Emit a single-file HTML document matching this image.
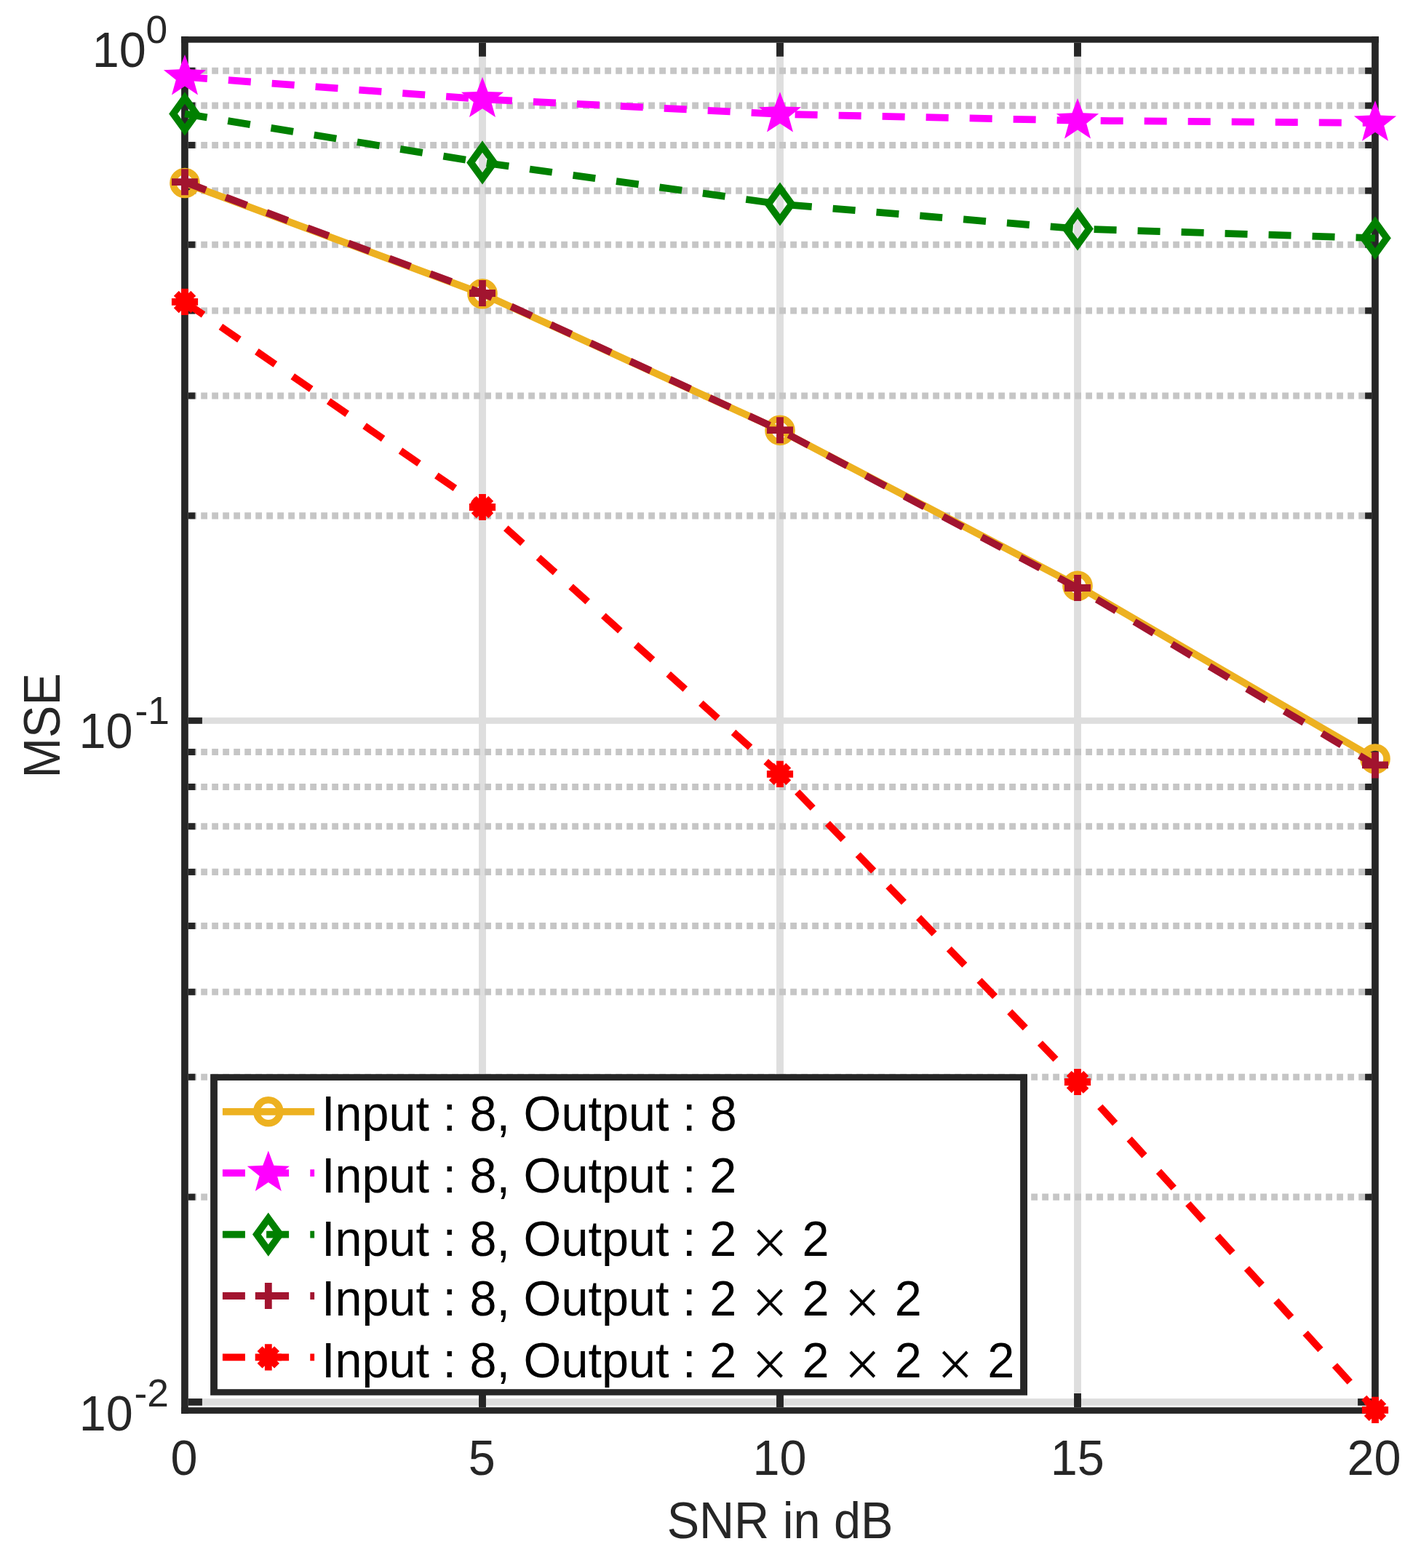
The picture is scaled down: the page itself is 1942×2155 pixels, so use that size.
<!DOCTYPE html>
<html lang="en">
<head>
<meta charset="utf-8">
<title>MSE vs SNR in dB</title>
<style>
html,body{margin:0;padding:0;background:#fff;}
body{width:1942px;height:2155px;overflow:hidden;}
svg{display:block;}
text{font-family:"Liberation Sans",sans-serif;}
</style>
</head>
<body>
<svg width="1942" height="2155" viewBox="0 0 1942 2155" role="img" aria-label="MSE versus SNR in dB">
<rect width="1942" height="2155" fill="#fff"/>
<g fill="#dedede">
<rect x="658.05" y="58.7" width="9.9" height="1875.5" fill="#dedede"/>
<rect x="1067.05" y="58.7" width="9.9" height="1875.5" fill="#dedede"/>
<rect x="1476.05" y="58.7" width="9.9" height="1875.5" fill="#dedede"/>
<rect x="258.8" y="986.1" width="1626.3" height="8.7" fill="#dedede"/>
<rect x="258.8" y="1922.1" width="1626.3" height="9.7" fill="#dedede"/>
</g>
<g fill="#c6c6c6">
<path d="M261.2 97.24H1139" stroke="#c6c6c6" stroke-width="9.1" stroke-dasharray="8.8 6.2" fill="none"/>
<path d="M1147.2 97.24H1885" stroke="#c6c6c6" stroke-width="9.1" stroke-dasharray="8.8 6.2" fill="none"/>
<path d="M261.2 145.14H1139" stroke="#c6c6c6" stroke-width="9.1" stroke-dasharray="8.8 6.2" fill="none"/>
<path d="M1147.2 145.14H1885" stroke="#c6c6c6" stroke-width="9.1" stroke-dasharray="8.8 6.2" fill="none"/>
<path d="M261.2 199.43H1139" stroke="#c6c6c6" stroke-width="9.1" stroke-dasharray="8.8 6.2" fill="none"/>
<path d="M1147.2 199.43H1885" stroke="#c6c6c6" stroke-width="9.1" stroke-dasharray="8.8 6.2" fill="none"/>
<path d="M261.2 262.12H1139" stroke="#c6c6c6" stroke-width="9.1" stroke-dasharray="8.8 6.2" fill="none"/>
<path d="M1147.2 262.12H1885" stroke="#c6c6c6" stroke-width="9.1" stroke-dasharray="8.8 6.2" fill="none"/>
<path d="M261.2 336.25H1139" stroke="#c6c6c6" stroke-width="9.1" stroke-dasharray="8.8 6.2" fill="none"/>
<path d="M1147.2 336.25H1885" stroke="#c6c6c6" stroke-width="9.1" stroke-dasharray="8.8 6.2" fill="none"/>
<path d="M261.2 426.99H1139" stroke="#c6c6c6" stroke-width="9.1" stroke-dasharray="8.8 6.2" fill="none"/>
<path d="M1147.2 426.99H1885" stroke="#c6c6c6" stroke-width="9.1" stroke-dasharray="8.8 6.2" fill="none"/>
<path d="M261.2 543.97H1139" stroke="#c6c6c6" stroke-width="9.1" stroke-dasharray="8.8 6.2" fill="none"/>
<path d="M1147.2 543.97H1885" stroke="#c6c6c6" stroke-width="9.1" stroke-dasharray="8.8 6.2" fill="none"/>
<path d="M261.2 708.85H1139" stroke="#c6c6c6" stroke-width="9.1" stroke-dasharray="8.8 6.2" fill="none"/>
<path d="M1147.2 708.85H1885" stroke="#c6c6c6" stroke-width="9.1" stroke-dasharray="8.8 6.2" fill="none"/>
<path d="M261.2 1033.54H1139" stroke="#c6c6c6" stroke-width="9.1" stroke-dasharray="8.8 6.2" fill="none"/>
<path d="M1147.2 1033.54H1885" stroke="#c6c6c6" stroke-width="9.1" stroke-dasharray="8.8 6.2" fill="none"/>
<path d="M261.2 1081.44H1139" stroke="#c6c6c6" stroke-width="9.1" stroke-dasharray="8.8 6.2" fill="none"/>
<path d="M1147.2 1081.44H1885" stroke="#c6c6c6" stroke-width="9.1" stroke-dasharray="8.8 6.2" fill="none"/>
<path d="M261.2 1135.73H1139" stroke="#c6c6c6" stroke-width="9.1" stroke-dasharray="8.8 6.2" fill="none"/>
<path d="M1147.2 1135.73H1885" stroke="#c6c6c6" stroke-width="9.1" stroke-dasharray="8.8 6.2" fill="none"/>
<path d="M261.2 1198.42H1139" stroke="#c6c6c6" stroke-width="9.1" stroke-dasharray="8.8 6.2" fill="none"/>
<path d="M1147.2 1198.42H1885" stroke="#c6c6c6" stroke-width="9.1" stroke-dasharray="8.8 6.2" fill="none"/>
<path d="M261.2 1272.55H1139" stroke="#c6c6c6" stroke-width="9.1" stroke-dasharray="8.8 6.2" fill="none"/>
<path d="M1147.2 1272.55H1885" stroke="#c6c6c6" stroke-width="9.1" stroke-dasharray="8.8 6.2" fill="none"/>
<path d="M261.2 1363.29H1139" stroke="#c6c6c6" stroke-width="9.1" stroke-dasharray="8.8 6.2" fill="none"/>
<path d="M1147.2 1363.29H1885" stroke="#c6c6c6" stroke-width="9.1" stroke-dasharray="8.8 6.2" fill="none"/>
<path d="M261.2 1480.27H1139" stroke="#c6c6c6" stroke-width="9.1" stroke-dasharray="8.8 6.2" fill="none"/>
<path d="M1147.2 1480.27H1885" stroke="#c6c6c6" stroke-width="9.1" stroke-dasharray="8.8 6.2" fill="none"/>
<path d="M261.2 1645.15H1139" stroke="#c6c6c6" stroke-width="9.1" stroke-dasharray="8.8 6.2" fill="none"/>
<path d="M1147.2 1645.15H1885" stroke="#c6c6c6" stroke-width="9.1" stroke-dasharray="8.8 6.2" fill="none"/>
</g>
<g fill="#262626">
<rect x="249.1" y="50.1" width="9.7" height="1892.8" fill="#262626"/>
<rect x="1885.1" y="50.1" width="9.7" height="1892.8" fill="#262626"/>
<rect x="249.1" y="50.1" width="1645.7" height="8.6" fill="#262626"/>
<rect x="249.1" y="1934.2" width="1645.7" height="8.7" fill="#262626"/>
<rect x="658.05" y="58.7" width="9.9" height="19" fill="#262626"/>
<rect x="658.05" y="1915" width="9.9" height="19.2" fill="#262626"/>
<rect x="1067.05" y="58.7" width="9.9" height="19" fill="#262626"/>
<rect x="1067.05" y="1915" width="9.9" height="19.2" fill="#262626"/>
<rect x="1476.05" y="58.7" width="9.9" height="19" fill="#262626"/>
<rect x="1476.05" y="1915" width="9.9" height="19.2" fill="#262626"/>
<rect x="258.8" y="986.1" width="19.1" height="8.7" fill="#262626"/>
<rect x="1866.1" y="986.1" width="19" height="8.7" fill="#262626"/>
<rect x="258.8" y="1922.1" width="19.1" height="9.7" fill="#262626"/>
<rect x="1866.1" y="1922.1" width="19" height="9.7" fill="#262626"/>
<rect x="258.8" y="92.74" width="9.5" height="9" fill="#262626"/>
<rect x="1876.1" y="92.74" width="9" height="9" fill="#262626"/>
<rect x="258.8" y="140.64" width="9.5" height="9" fill="#262626"/>
<rect x="1876.1" y="140.64" width="9" height="9" fill="#262626"/>
<rect x="258.8" y="194.93" width="9.5" height="9" fill="#262626"/>
<rect x="1876.1" y="194.93" width="9" height="9" fill="#262626"/>
<rect x="258.8" y="257.62" width="9.5" height="9" fill="#262626"/>
<rect x="1876.1" y="257.62" width="9" height="9" fill="#262626"/>
<rect x="258.8" y="331.75" width="9.5" height="9" fill="#262626"/>
<rect x="1876.1" y="331.75" width="9" height="9" fill="#262626"/>
<rect x="258.8" y="422.49" width="9.5" height="9" fill="#262626"/>
<rect x="1876.1" y="422.49" width="9" height="9" fill="#262626"/>
<rect x="258.8" y="539.47" width="9.5" height="9" fill="#262626"/>
<rect x="1876.1" y="539.47" width="9" height="9" fill="#262626"/>
<rect x="258.8" y="704.35" width="9.5" height="9" fill="#262626"/>
<rect x="1876.1" y="704.35" width="9" height="9" fill="#262626"/>
<rect x="258.8" y="1029.04" width="9.5" height="9" fill="#262626"/>
<rect x="1876.1" y="1029.04" width="9" height="9" fill="#262626"/>
<rect x="258.8" y="1076.94" width="9.5" height="9" fill="#262626"/>
<rect x="1876.1" y="1076.94" width="9" height="9" fill="#262626"/>
<rect x="258.8" y="1131.23" width="9.5" height="9" fill="#262626"/>
<rect x="1876.1" y="1131.23" width="9" height="9" fill="#262626"/>
<rect x="258.8" y="1193.92" width="9.5" height="9" fill="#262626"/>
<rect x="1876.1" y="1193.92" width="9" height="9" fill="#262626"/>
<rect x="258.8" y="1268.05" width="9.5" height="9" fill="#262626"/>
<rect x="1876.1" y="1268.05" width="9" height="9" fill="#262626"/>
<rect x="258.8" y="1358.79" width="9.5" height="9" fill="#262626"/>
<rect x="1876.1" y="1358.79" width="9" height="9" fill="#262626"/>
<rect x="258.8" y="1475.77" width="9.5" height="9" fill="#262626"/>
<rect x="1876.1" y="1475.77" width="9" height="9" fill="#262626"/>
<rect x="258.8" y="1640.65" width="9.5" height="9" fill="#262626"/>
<rect x="1876.1" y="1640.65" width="9" height="9" fill="#262626"/>
</g>
<polyline points="254,251.5 663,403.8 1072,591.4 1481,805.2 1890,1043" fill="none" stroke="#EDB120" stroke-width="9.8" stroke-linejoin="miter"/>
<circle cx="254" cy="251.5" r="16" fill="none" stroke="#EDB120" stroke-width="9.6"/>
<circle cx="663" cy="403.8" r="16" fill="none" stroke="#EDB120" stroke-width="9.6"/>
<circle cx="1072" cy="591.4" r="16" fill="none" stroke="#EDB120" stroke-width="9.6"/>
<circle cx="1481" cy="805.2" r="16" fill="none" stroke="#EDB120" stroke-width="9.6"/>
<circle cx="1890" cy="1043" r="16" fill="none" stroke="#EDB120" stroke-width="9.6"/>
<polyline points="254,105.7 663,136.3 1072,156.8 1481,165.7 1890,168.9" fill="none" stroke="#FF00FF" stroke-width="9.8" stroke-linejoin="miter" stroke-dasharray="31.0 29.02"/>
<polygon points="254,75.1 261.55,95.3 283.1,96.24 266.22,109.67 271.99,130.46 254,118.55 236.01,130.46 241.78,109.67 224.9,96.24 246.45,95.3" fill="#FF00FF"/>
<polygon points="663,105.7 670.55,125.9 692.1,126.84 675.22,140.27 680.99,161.06 663,149.15 645.01,161.06 650.78,140.27 633.9,126.84 655.45,125.9" fill="#FF00FF"/>
<polygon points="1072,126.2 1079.55,146.4 1101.1,147.34 1084.22,160.77 1089.99,181.56 1072,169.65 1054.01,181.56 1059.78,160.77 1042.9,147.34 1064.45,146.4" fill="#FF00FF"/>
<polygon points="1481,135.1 1488.55,155.3 1510.1,156.24 1493.22,169.67 1498.99,190.46 1481,178.55 1463.01,190.46 1468.78,169.67 1451.9,156.24 1473.45,155.3" fill="#FF00FF"/>
<polygon points="1890,138.3 1897.55,158.5 1919.1,159.44 1902.22,172.87 1907.99,193.66 1890,181.75 1872.01,193.66 1877.78,172.87 1860.9,159.44 1882.45,158.5" fill="#FF00FF"/>
<polyline points="254,156.4 663,223.4 1072,280.5 1481,314.5 1890,327.3" fill="none" stroke="#008000" stroke-width="9.8" stroke-linejoin="miter" stroke-dasharray="31.0 29.02"/>
<polygon points="254,134.5 269.9,156.4 254,178.3 238.1,156.4" fill="none" stroke="#008000" stroke-width="9.6" stroke-linejoin="miter" stroke-miterlimit="10"/>
<polygon points="663,201.5 678.9,223.4 663,245.3 647.1,223.4" fill="none" stroke="#008000" stroke-width="9.6" stroke-linejoin="miter" stroke-miterlimit="10"/>
<polygon points="1072,258.6 1087.9,280.5 1072,302.4 1056.1,280.5" fill="none" stroke="#008000" stroke-width="9.6" stroke-linejoin="miter" stroke-miterlimit="10"/>
<polygon points="1481,292.6 1496.9,314.5 1481,336.4 1465.1,314.5" fill="none" stroke="#008000" stroke-width="9.6" stroke-linejoin="miter" stroke-miterlimit="10"/>
<polygon points="1890,305.4 1905.9,327.3 1890,349.2 1874.1,327.3" fill="none" stroke="#008000" stroke-width="9.6" stroke-linejoin="miter" stroke-miterlimit="10"/>
<polyline points="254,250.2 663,403 1072,591.2 1481,808 1890,1051.4" fill="none" stroke="#A2142F" stroke-width="9.8" stroke-linejoin="miter" stroke-dasharray="31.0 29.02"/>
<path d="M236 250.2H272M254 232.2V268.2" fill="none" stroke="#A2142F" stroke-width="9.8"/>
<path d="M645 403H681M663 385V421" fill="none" stroke="#A2142F" stroke-width="9.8"/>
<path d="M1054 591.2H1090M1072 573.2V609.2" fill="none" stroke="#A2142F" stroke-width="9.8"/>
<path d="M1463 808H1499M1481 790V826" fill="none" stroke="#A2142F" stroke-width="9.8"/>
<path d="M1872 1051.4H1908M1890 1033.4V1069.4" fill="none" stroke="#A2142F" stroke-width="9.8"/>
<polyline points="254,414.95 663,697 1072,1063.9 1481,1487 1890,1937.8" fill="none" stroke="#FF0000" stroke-width="9.8" stroke-linejoin="miter" stroke-dasharray="31.0 29.02"/>
<path d="M235.9 414.95H272.1M254 396.85V433.05M242.26 403.21L265.74 426.69M242.26 426.69L265.74 403.21" fill="none" stroke="#FF0000" stroke-width="9.8"/>
<path d="M644.9 697H681.1M663 678.9V715.1M651.26 685.26L674.74 708.74M651.26 708.74L674.74 685.26" fill="none" stroke="#FF0000" stroke-width="9.8"/>
<path d="M1053.9 1063.9H1090.1M1072 1045.8V1082M1060.26 1052.16L1083.74 1075.64M1060.26 1075.64L1083.74 1052.16" fill="none" stroke="#FF0000" stroke-width="9.8"/>
<path d="M1462.9 1487H1499.1M1481 1468.9V1505.1M1469.26 1475.26L1492.74 1498.74M1469.26 1498.74L1492.74 1475.26" fill="none" stroke="#FF0000" stroke-width="9.8"/>
<path d="M1871.9 1937.8H1908.1M1890 1919.7V1955.9M1878.26 1926.06L1901.74 1949.54M1878.26 1949.54L1901.74 1926.06" fill="none" stroke="#FF0000" stroke-width="9.8"/>
<rect x="289.1" y="1476.2" width="1122.9" height="441.5" fill="#262626"/>
<rect x="298.9" y="1485" width="1103.2" height="424.2" fill="#fff"/>
<path d="M305.9 1527.8H432.1" fill="none" stroke="#EDB120" stroke-width="9.8"/>
<circle cx="368.8" cy="1527.8" r="16" fill="none" stroke="#EDB120" stroke-width="9.6"/>
<path d="M305.9 1612.2H432.1" fill="none" stroke="#FF00FF" stroke-width="9.8" stroke-dasharray="31 29.2"/>
<polygon points="368.8,1581.6 376.35,1601.8 397.9,1602.74 381.02,1616.17 386.79,1636.96 368.8,1625.05 350.81,1636.96 356.58,1616.17 339.7,1602.74 361.25,1601.8" fill="#FF00FF"/>
<path d="M305.9 1696.6H432.1" fill="none" stroke="#008000" stroke-width="9.8" stroke-dasharray="31 29.2"/>
<polygon points="368.8,1674.7 384.7,1696.6 368.8,1718.5 352.9,1696.6" fill="none" stroke="#008000" stroke-width="9.6" stroke-linejoin="miter" stroke-miterlimit="10"/>
<path d="M305.9 1781H432.1" fill="none" stroke="#A2142F" stroke-width="9.8" stroke-dasharray="31 29.2"/>
<path d="M350.8 1781H386.8M368.8 1763V1799" fill="none" stroke="#A2142F" stroke-width="9.8"/>
<path d="M305.9 1865.4H432.1" fill="none" stroke="#FF0000" stroke-width="9.8" stroke-dasharray="31 29.2"/>
<path d="M350.7 1865.4H386.9M368.8 1847.3V1883.5M357.06 1853.66L380.54 1877.14M357.06 1877.14L380.54 1853.66" fill="none" stroke="#FF0000" stroke-width="9.8"/>
<g font-family="'Liberation Sans', sans-serif">
<text transform="translate(442.06 1554) scale(0.972 1)" font-size="68.5" fill="#000">Input : 8, Output : <tspan x="549.02">8</tspan></text>
<text transform="translate(442.06 1639.1) scale(0.972 1)" font-size="68.5" fill="#000">Input : 8, Output : <tspan x="548.56">2</tspan></text>
<text transform="translate(442.06 1726) scale(0.972 1)" font-size="68.5" fill="#000">Input : 8, Output : <tspan x="548.56">2</tspan> <tspan x="604.91" dy="4" font-size="68.93" font-weight="200" stroke="#000" stroke-width="0.8" style="font-family:'DejaVu Sans','Liberation Sans',sans-serif">×</tspan> <tspan x="679.52" dy="-4">2</tspan></text>
<text transform="translate(442.06 1808.1) scale(0.972 1)" font-size="68.5" fill="#000">Input : 8, Output : <tspan x="548.56">2</tspan> <tspan x="604.91" dy="4" font-size="68.93" font-weight="200" stroke="#000" stroke-width="0.8" style="font-family:'DejaVu Sans','Liberation Sans',sans-serif">×</tspan> <tspan x="679.52" dy="-4">2</tspan> <tspan x="735.88" dy="4" font-size="68.93" font-weight="200" stroke="#000" stroke-width="0.8" style="font-family:'DejaVu Sans','Liberation Sans',sans-serif">×</tspan> <tspan x="810.49" dy="-4">2</tspan></text>
<text transform="translate(442.06 1893) scale(0.972 1)" font-size="68.5" fill="#000">Input : 8, Output : <tspan x="548.56">2</tspan> <tspan x="604.91" dy="4" font-size="68.93" font-weight="200" stroke="#000" stroke-width="0.8" style="font-family:'DejaVu Sans','Liberation Sans',sans-serif">×</tspan> <tspan x="679.52" dy="-4">2</tspan> <tspan x="735.88" dy="4" font-size="68.93" font-weight="200" stroke="#000" stroke-width="0.8" style="font-family:'DejaVu Sans','Liberation Sans',sans-serif">×</tspan> <tspan x="810.49" dy="-4">2</tspan> <tspan x="866.85" dy="4" font-size="68.93" font-weight="200" stroke="#000" stroke-width="0.8" style="font-family:'DejaVu Sans','Liberation Sans',sans-serif">×</tspan> <tspan x="941.46" dy="-4">2</tspan></text>
<text transform="translate(234.58 2027.3) scale(0.979 1)" font-size="68" fill="#262626">0</text>
<text transform="translate(643.77 2027.3) scale(0.979 1)" font-size="68" fill="#262626">5</text>
<text transform="translate(1034.45 2027.3) scale(0.979 1)" font-size="68" fill="#262626">10</text>
<text transform="translate(1443.85 2027.3) scale(0.979 1)" font-size="68" fill="#262626">15</text>
<text transform="translate(1851.55 2027.3) scale(0.979 1)" font-size="68" fill="#262626">20</text>
<text transform="translate(126.65 92.2) scale(0.979 1)" font-size="68" fill="#262626">10<tspan x="75.44" dy="-33.2" font-size="54.5">0</tspan></text>
<text transform="translate(108.55 1027.8) scale(0.979 1)" font-size="68" fill="#262626">10<tspan x="78.56" dy="-33.2" font-size="54.5">-1</tspan></text>
<text transform="translate(108.85 1966.4) scale(0.979 1)" font-size="68" fill="#262626">10<tspan x="77.21" dy="-33.2" font-size="54.5">-2</tspan></text>
<text transform="translate(916.63 2113.7) scale(0.958 1)" font-size="69.5" fill="#262626">SNR in dB</text>
<text transform="translate(81.9 996) rotate(-90) scale(0.958 1) translate(-76.66 0)" font-size="69.5" fill="#262626">MSE</text>
</g>
</svg>
</body>
</html>
